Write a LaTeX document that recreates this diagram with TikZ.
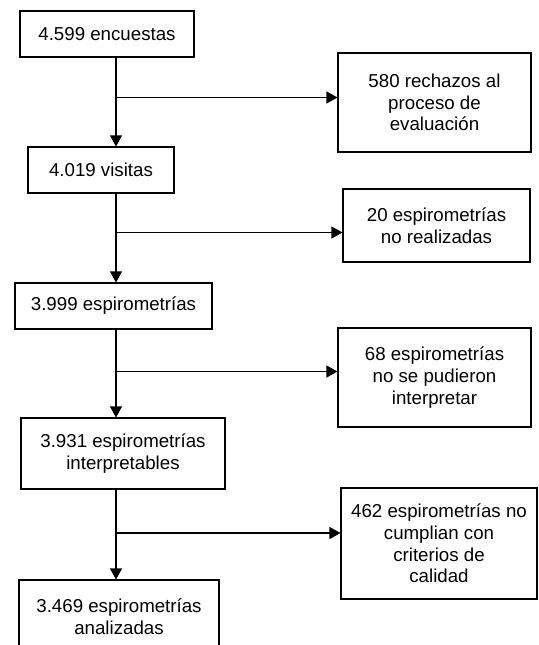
\documentclass[tikz,border=0pt]{standalone}
\usepackage{fontspec}
\setmainfont{Liberation Sans}
\usetikzlibrary{arrows.meta,positioning,calc}

\tikzset{
  caja/.style={draw, rectangle, line width=1.1pt, align=center, inner sep=0pt,
    font=\fontsize{18.7}{21.7}\selectfont},
  flecha/.style={line width=1.1pt, -{Triangle[length=11pt,width=12pt]}}
}

\begin{document}
\begin{tikzpicture}[x=1pt,y=-1pt]
    \clip (0,0) rectangle (538,645);
    \fill[white] (0,0) rectangle (538,645);

    % columna principal
    \node[caja, minimum width=174pt, minimum height=46pt] (l1) at (107,34) {4.599 encuestas};
    \node[caja, minimum width=146pt, minimum height=46pt] (l2) at (101,170) {4.019 visitas};
    \node[caja, minimum width=197pt, minimum height=46pt] (l3) at (113.5,306) {3.999 espirometrías};
    \node[caja, minimum width=204pt, minimum height=71pt] (l4) at (123,453.5) {3.931 espirometrías\\ interpretables};
    \node[caja, minimum width=200pt, minimum height=74pt] (l5) at (119,617) {3.469 espirometrías\\ analizadas};

    % exclusiones
    \node[caja, minimum width=193pt, minimum height=99pt] (r1) at (434.5,102.5) {580 rechazos al\\ proceso de\\ evaluación};
    \node[caja, minimum width=187pt, minimum height=73pt] (r2) at (436.5,225.5) {20 espirometrías\\ no realizadas};
    \node[caja, minimum width=193pt, minimum height=99pt] (r3) at (434.5,377.5) {68 espirometrías\\ no se pudieron\\ interpretar};
    \node[caja, minimum width=196pt, minimum height=111pt] (r4) at (439,543.5) {462 espirometrías no\\ cumplian con\\ criterios de\\ calidad};

    \coordinate (eje) at (116,0);
    \coordinate (d1) at (116,97.5);
    \coordinate (d2) at (116,232.5);
    \coordinate (d3) at (116,371.5);
    \coordinate (d4) at (116,533);

    \draw[flecha] (l1.south -| eje) -- (l2.north -| eje);
    \draw[flecha] (l2.south -| eje) -- (l3.north -| eje);
    \draw[flecha] (l3.south -| eje) -- (l4.north -| eje);
    \draw[flecha] (l4.south -| eje) -- (l5.north -| eje);

    \draw[flecha] (d1) -- (d1 -| r1.west);
    \draw[flecha] (d2) -- (d2 -| r2.west);
    \draw[flecha] (d3) -- (d3 -| r3.west);
    \draw[flecha] (d4) -- (d4 -| r4.west);
\end{tikzpicture}
\end{document}
